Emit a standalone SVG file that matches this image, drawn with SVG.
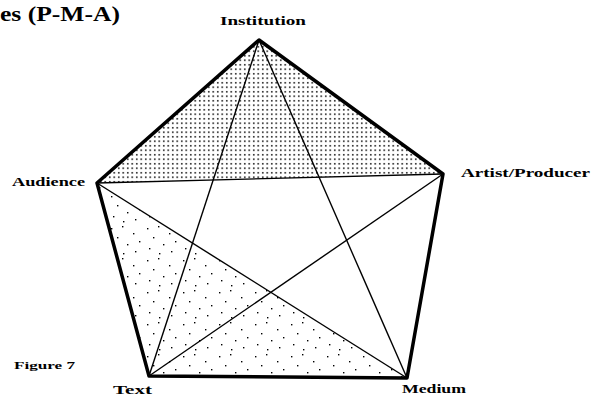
<svg xmlns="http://www.w3.org/2000/svg" width="591" height="397" viewBox="0 0 591 397">
<style>
.lbl{font-family:"Liberation Serif","Times New Roman",serif;font-weight:bold;fill:#000}
.outer{fill:none;stroke:#000;stroke-width:3.5;stroke-linejoin:round}
.inner{stroke:#000;stroke-width:1.4;fill:none}
</style>
<defs>
<pattern id="grid" width="4.5" height="4.5" patternUnits="userSpaceOnUse">
<rect x="1" y="1" width="1.5" height="1.5" fill="#000"/>
</pattern>
<pattern id="sparse" width="36" height="32" patternUnits="userSpaceOnUse">
<rect x="3" y="4" width="1.4" height="1.4" fill="#000"/>
<rect x="14" y="2" width="1.4" height="1.4" fill="#000"/>
<rect x="25" y="9" width="1.4" height="1.4" fill="#000"/>
<rect x="9" y="13" width="1.4" height="1.4" fill="#000"/>
<rect x="31" y="17" width="1.4" height="1.4" fill="#000"/>
<rect x="19" y="20" width="1.4" height="1.4" fill="#000"/>
<rect x="5" y="24" width="1.4" height="1.4" fill="#000"/>
<rect x="27" y="27" width="1.4" height="1.4" fill="#000"/>
<rect x="15" y="29" width="1.4" height="1.4" fill="#000"/>
</pattern>
</defs>
<rect width="591" height="397" fill="#fff"/>
<g id="shading">
<polygon points="259,40 97,183 443,174" fill="url(#grid)"/>
<polygon points="97,183 149,376 407,378" fill="url(#sparse)"/>
</g>
<g id="connectors">
<polygon class="outer" points="259,40 443,174 407,378 149,376 97,183"/>
<line class="inner" x1="97" y1="183" x2="443" y2="174"/>
<line class="inner" x1="259" y1="40" x2="149" y2="376"/>
<line class="inner" x1="259" y1="40" x2="407" y2="378"/>
<line class="inner" x1="97" y1="183" x2="407" y2="378"/>
<line class="inner" x1="443" y1="174" x2="149" y2="376"/>
</g>
<text class="lbl" x="0" y="21" font-size="22" textLength="120" lengthAdjust="spacingAndGlyphs">es (P-M-A)</text>
<g id="institution"><text class="lbl" x="220" y="25" font-size="12" textLength="86" lengthAdjust="spacingAndGlyphs">Institution</text></g>
<g id="audience"><text class="lbl" x="12" y="186" font-size="12" textLength="73" lengthAdjust="spacingAndGlyphs">Audience</text></g>
<g id="artist"><text class="lbl" x="461" y="177" font-size="12" textLength="129" lengthAdjust="spacingAndGlyphs">Artist/Producer</text></g>
<g id="text"><text class="lbl" x="113" y="394" font-size="12" textLength="39" lengthAdjust="spacingAndGlyphs">Text</text></g>
<g id="medium"><text class="lbl" x="402" y="393" font-size="12" textLength="64" lengthAdjust="spacingAndGlyphs">Medium</text></g>
<text class="lbl" x="14" y="369" font-size="11" font-weight="normal" textLength="61" lengthAdjust="spacingAndGlyphs">Figure 7</text>
</svg>
